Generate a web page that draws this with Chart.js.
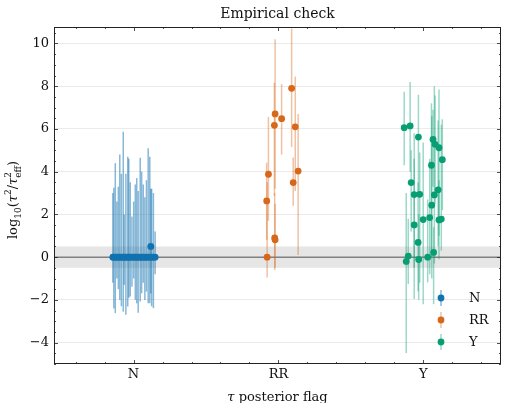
<!DOCTYPE html>
<html>
<head>
<meta charset="utf-8">
<script src="https://cdn.jsdelivr.net/npm/chart.js@4.4.0/dist/chart.umd.min.js"></script>
<style>html,body{margin:0;padding:0;background:#fff}canvas{display:block}</style>
</head>
<body>
<canvas id="chart" width="505" height="403"></canvas>
<script>
const categories = ['N', 'RR', 'Y'];
const yTicks = [-4, -2, 0, 2, 4, 6, 8, 10];

// N flag: jittered x (category units), value, error bar ends
const nX  = [-0.143, -0.136, -0.126, -0.115, -0.105, -0.095, -0.084, -0.071, -0.064, -0.053, -0.040, -0.033, -0.023, -0.011, 0.001, 0.012, 0.022, 0.032, 0.046, 0.056, 0.067, 0.078, 0.089, 0.101, 0.112, 0.119, 0.125, 0.137, 0.149];
const nY  = [0, 0, 0, 0, 0, 0, 0, 0, 0, 0, 0, 0, 0, 0, 0, 0, 0, 0, 0, 0, 0, 0, 0, 0, 0, 0.5, 0, 0, 0];
const nHi = [3.0, 3.25, 4.4, 2.6, 3.3, 4.8, 3.9, 5.87, 2.0, 3.9, 4.7, 4.6, 3.5, 1.9, 2.6, 3.4, 3.7, 3.1, 4.65, 4.0, 3.4, 2.8, 3.6, 5.1, 4.7, 3.2, 3.2, 3.0, 1.2];
const nLo = [-1.2, -2.4, -2.62, -1.0, -1.5, -2.0, -2.3, -2.55, -1.3, -2.7, -2.31, -1.9, -1.84, -1.38, -1.0, -2.0, -2.16, -2.6, -2.08, -1.69, -1.2, -2.0, -1.61, -2.16, -2.16, -1.7, -2.3, -2.39, -0.8];

// RR flag
const rrX  = [1.091, 0.977, 0.972, 1.022, 1.116, 1.102, 1.136, 0.931, 0.919, 0.974, 0.977, 0.922];
const rrY  = [7.9, 6.7, 6.17, 6.48, 6.1, 3.49, 4.03, 3.88, 2.63, 0.90, 0.81, 0.0];
const rrHi = [10.7, 10.2, 8.16, 8.1, 8.45, 4.66, 6.7, 6.56, 4.42, 3.0, 2.5, 3.5];
const rrLo = [5.15, 3.2, 2.87, 4.8, 3.1, 2.4, 0.1, 1.7, 0.8, -0.6, -0.5, -0.95];

// Y flag
const yX  = [1.868, 1.909, 1.966, 2.067, 2.081, 2.108, 2.056, 2.131, 1.916, 1.937, 1.975, 2.102, 2.076, 2.058, 1.937, 1.999, 2.044, 2.108, 2.124, 1.964, 1.896, 1.882, 1.968, 2.030, 2.071];
const yY  = [6.06, 6.14, 5.62, 5.51, 5.28, 5.12, 4.30, 4.56, 3.49, 2.93, 2.94, 3.15, 2.91, 2.43, 1.51, 1.76, 1.85, 1.74, 1.78, 0.69, 0.05, -0.20, -0.11, 0.00, 0.22];
const yHi = [7.74, 8.2, 7.6, 6.9, 7.57, 7.85, 7.2, 6.45, 5.0, 5.8, 4.9, 6.4, 8.0, 6.6, 4.6, 5.37, 4.6, 3.6, 6.2, 3.5, 1.8, 3.0, 2.0, 2.7, 1.4];
const yLo = [4.3, 4.0, 3.0, 3.3, 2.5, 1.0, 0.0, 2.2, 1.2, -0.5, -1.2, 0.5, -0.3, -1.0, -1.96, -2.2, -0.8, -0.1, 0.3, -1.6, -1.26, -4.49, -2.0, -1.18, -2.2];

const bandLo = -0.5, bandHi = 0.5;

const FONT = 'DejaVu Serif';
const colors = ['#1172b0', '#d7671a', '#089e73'];
const barColors = ['rgba(17,114,176,0.5)', 'rgba(215,103,26,0.4)', 'rgba(8,158,115,0.4)'];

function points(xs, ys, his, los) {
  return xs.map((x, i) => ({ x, y: ys[i], hi: his[i], lo: los[i] }));
}

const groups = [
  points(nX, nY, nHi, nLo),
  points(rrX, rrY, rrHi, rrLo),
  points(yX, yY, yHi, yLo),
];

const errorBars = {
  id: 'errorBars',
  beforeDatasetsDraw(chart) {
    const { ctx, chartArea: a, scales: { x, y } } = chart;
    ctx.save();
    ctx.beginPath();
    ctx.rect(a.left, a.top, a.right - a.left, a.bottom - a.top);
    ctx.clip();
    const b0 = y.getPixelForValue(bandHi), b1 = y.getPixelForValue(bandLo);
    ctx.fillStyle = 'rgba(128,128,128,0.2)';
    ctx.fillRect(a.left, b0, a.right - a.left, b1 - b0);
    const z = y.getPixelForValue(0);
    ctx.strokeStyle = '#555';
    ctx.lineWidth = 1;
    ctx.beginPath(); ctx.moveTo(a.left, z); ctx.lineTo(a.right, z); ctx.stroke();
    chart.data.datasets.forEach((ds, i) => {
      ctx.strokeStyle = barColors[i];
      ctx.lineWidth = 1.5;
      ds.data.forEach(p => {
        const px = x.getPixelForValue(p.x);
        ctx.beginPath();
        ctx.moveTo(px, y.getPixelForValue(p.lo));
        ctx.lineTo(px, y.getPixelForValue(p.hi));
        ctx.stroke();
      });
    });
    ctx.restore();
  }
};

function drawPieces(ctx, pieces) {
  let total = 0;
  pieces.forEach(p => {
    const ws = p.parts.map(q => { ctx.font = q.font; return ctx.measureText(q.t).width; });
    p.w = Math.max(...ws);
    total += p.w;
  });
  let cx = -total / 2;
  pieces.forEach(p => {
    p.parts.forEach(q => { ctx.font = q.font; ctx.fillText(q.t, cx, q.dy || 0); });
    cx += p.w;
  });
}

const frame = {
  id: 'frame',
  afterDraw(chart) {
    const { ctx, chartArea: a, scales: { x, y } } = chart;
    ctx.save();
    ctx.strokeStyle = '#222';
    ctx.lineWidth = 1;
    ctx.strokeRect(a.left + 0.5, a.top + 0.5, a.right - a.left - 1, a.bottom - a.top - 1);

    ctx.lineWidth = 0.8;
    const tick = (px, len, vertical) => {
      ctx.beginPath();
      if (vertical) {
        ctx.moveTo(px, a.bottom); ctx.lineTo(px, a.bottom - len);
        ctx.moveTo(px, a.top); ctx.lineTo(px, a.top + len);
      } else {
        ctx.moveTo(a.left, px); ctx.lineTo(a.left + len, px);
        ctx.moveTo(a.right, px); ctx.lineTo(a.right - len, px);
      }
      ctx.stroke();
    };
    for (let k = Math.ceil(x.min / 0.2); k * 0.2 <= x.max; k++) {
      const major = k % 5 === 0;
      tick(Math.round(x.getPixelForValue(k * 0.2)) + 0.5, major ? 4 : 2, true);
    }
    for (let k = Math.ceil(y.min / 0.5); k * 0.5 <= y.max; k++) {
      const major = k % 4 === 0;
      tick(Math.round(y.getPixelForValue(k * 0.5)) + 0.5, major ? 4 : 2, false);
    }

    // title and axis labels
    ctx.fillStyle = '#111';
    ctx.textBaseline = 'alphabetic';
    ctx.textAlign = 'center';
    ctx.font = '14px "' + FONT + '"';
    const cxp = (a.left + a.right) / 2;
    ctx.fillText('Empirical check', cxp, 18);

    ctx.textAlign = 'left';
    const n = '13px "' + FONT + '"', it = 'italic 13px "' + FONT + '"', sm = '9px "' + FONT + '"';
    ctx.save();
    ctx.translate(cxp, 401);
    drawPieces(ctx, [
      { parts: [{ t: 'τ', font: it }] },
      { parts: [{ t: ' posterior flag', font: n }] },
    ]);
    ctx.restore();

    ctx.save();
    ctx.translate(17, 200);
    ctx.rotate(-Math.PI / 2);
    drawPieces(ctx, [
      { parts: [{ t: 'log', font: n }] },
      { parts: [{ t: '10', font: sm, dy: 4 }] },
      { parts: [{ t: '(', font: n }] },
      { parts: [{ t: 'τ', font: it }] },
      { parts: [{ t: '2', font: sm, dy: -6 }] },
      { parts: [{ t: '/', font: n }] },
      { parts: [{ t: 'τ', font: it }] },
      { parts: [{ t: '2', font: sm, dy: -6 }, { t: 'eff', font: sm, dy: 4 }] },
      { parts: [{ t: ')', font: n }] },
    ]);
    ctx.restore();

    // legend
    chart.data.datasets.forEach((ds, i) => {
      const ly = 298 + 22 * i, lx = 441;
      ctx.strokeStyle = barColors[i];
      ctx.lineWidth = 1.5;
      ctx.beginPath(); ctx.moveTo(lx, ly - 8); ctx.lineTo(lx, ly + 8); ctx.stroke();
      ctx.fillStyle = colors[i];
      ctx.beginPath(); ctx.arc(lx, ly, 3.4, 0, Math.PI * 2); ctx.fill();
      ctx.fillStyle = '#111';
      ctx.font = n;
      ctx.textBaseline = 'middle';
      ctx.fillText(ds.label, 469, ly + 1);
    });
    ctx.restore();
  }
};

new Chart(document.getElementById('chart'), {
  type: 'scatter',
  data: {
    datasets: categories.map((c, i) => ({
      label: c,
      data: groups[i],
      backgroundColor: colors[i],
      borderWidth: 0,
      pointRadius: 3.4,
    })),
  },
  options: {
    responsive: false,
    animation: false,
    layout: { padding: { top: 27, right: 1, left: 0, bottom: 0 } },
    plugins: { legend: { display: false }, title: { display: false }, tooltip: { enabled: false } },
    scales: {
      x: {
        type: 'linear',
        min: -0.549,
        max: 2.536,
        afterFit: s => { s.height = 39; },
        afterBuildTicks: s => { s.ticks = categories.map((c, i) => ({ value: i })); },
        ticks: { callback: v => categories[v], font: { family: FONT, size: 13 }, color: '#111', padding: -5, maxRotation: 0, autoSkip: false },
        grid: { display: false },
        border: { display: false },
      },
      y: {
        min: -5.0,
        max: 10.77,
        afterFit: s => { s.width = 54; },
        afterBuildTicks: s => { s.ticks = yTicks.map(v => ({ value: v })); },
        ticks: { callback: v => String(v).replace('-', '\u2212'), font: { family: FONT, size: 13 }, color: '#111', padding: 5 },
        grid: { color: '#ebebeb', drawTicks: false, lineWidth: 1 },
        border: { display: false },
      },
    },
  },
  plugins: [errorBars, frame],
});
</script>
</body>
</html>
